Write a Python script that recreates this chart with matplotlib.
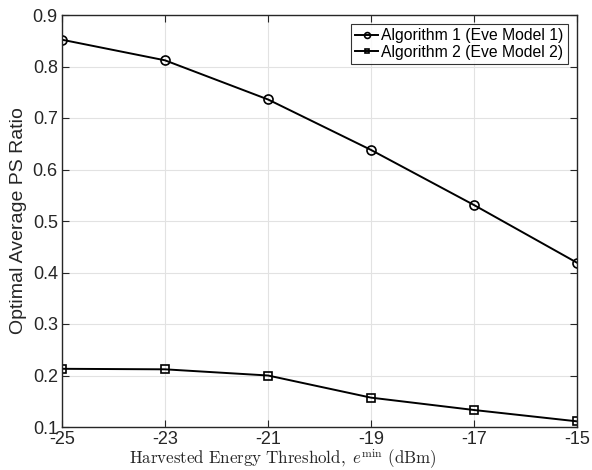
import matplotlib
matplotlib.use("Agg")
import matplotlib.pyplot as plt

x = [-25, -23, -21, -19, -17, -15]
alg1 = [0.852, 0.812, 0.736, 0.638, 0.531, 0.419]
alg2 = [0.213, 0.212, 0.200, 0.157, 0.133, 0.111]
labels = ["Algorithm 1 (Eve Model 1)", "Algorithm 2 (Eve Model 2)"]
xticks = [-25, -23, -21, -19, -17, -15]
yticks = [0.1, 0.2, 0.3, 0.4, 0.5, 0.6, 0.7, 0.8, 0.9]

plt.rcParams['font.family'] = ['Liberation Sans', 'DejaVu Sans']
plt.rcParams['mathtext.fontset'] = 'cm'

W, H = 592, 470
fig = plt.figure(figsize=(W / 100, H / 100), dpi=100)
ax = fig.add_axes([62 / W, 1 - 427 / H, (577 - 62) / W, (427 - 15) / H])

ax.plot(x, alg1, '-o', color='black', lw=1.4, ms=6.5, mfc='none', mew=1.2, label=labels[0])
ax.plot(x, alg2, '-s', color='black', lw=1.4, ms=5.5, mfc='none', mew=1.2, label=labels[1])

ax.set_xlim(-25, -15)
ax.set_ylim(0.1, 0.9)
ax.set_xticks(xticks)
ax.set_xticklabels([str(t) for t in xticks])
ax.set_yticks(yticks)
ax.set_yticklabels([f"{t:.1f}" for t in yticks])
ax.grid(True, color='#e2e2e2', lw=0.8)
ax.set_axisbelow(True)
ax.tick_params(direction='in', top=True, right=True, labelsize=13, length=5,
               color='#262626', labelcolor='#262626', pad=3)
for s in ax.spines.values():
    s.set_color('#262626')
    s.set_linewidth(1.0)

fig.text(19 / W, 1 - 221 / H, 'Optimal Average PS Ratio', rotation=90,
         ha='center', va='center', fontsize=14, color='#262626')
fig.text(283 / W, 1 - 464 / H,
         r'$\mathrm{Harvested\ Energy\ Threshold,}\ e^{\mathrm{min}}\ \mathrm{(dBm)}$',
         ha='center', va='baseline', fontsize=12.2, color='#262626')

leg = ax.legend(loc='upper right', fontsize=11.3, frameon=True, fancybox=False, handlelength=1.5,
                handletextpad=0.2, borderpad=0.25, labelspacing=0.1, borderaxespad=0.6, markerscale=0.65)
leg.get_frame().set_edgecolor('black')
leg.get_frame().set_linewidth(0.8)

fig.savefig('out.png', dpi=100)
